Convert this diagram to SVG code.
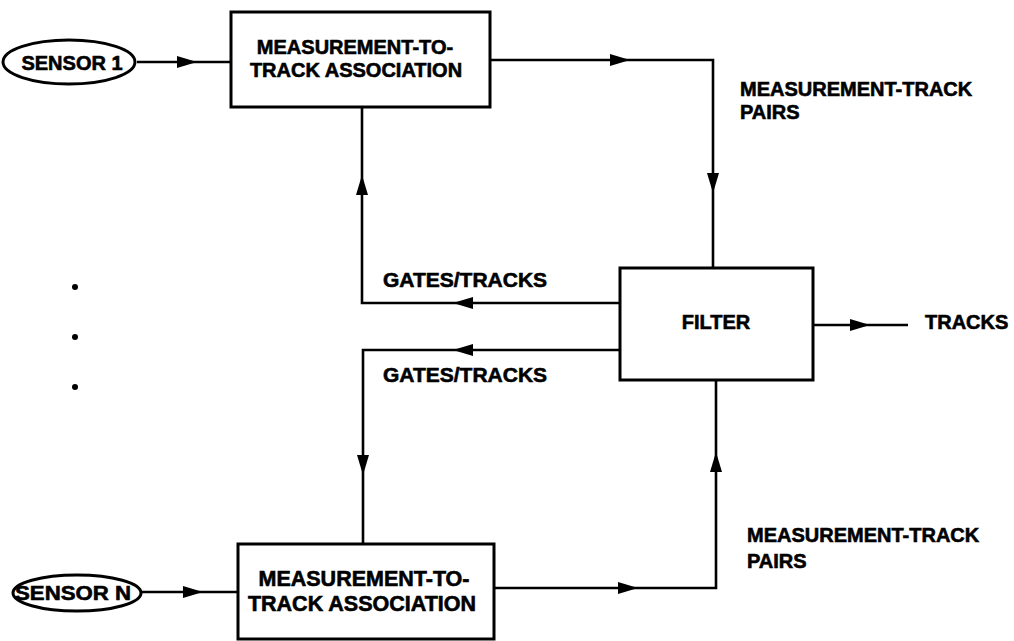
<svg xmlns="http://www.w3.org/2000/svg" xmlns:xlink="http://www.w3.org/1999/xlink" width="1014" height="641" viewBox="0 0 1014 641">
<style>
.box{fill:#fff;stroke:#000;stroke-width:3}
.ell{fill:#fff;stroke:#000;stroke-width:3}
.ln{fill:none;stroke:#000;stroke-width:2.6;stroke-linejoin:miter}
.t{font-family:"Liberation Sans",Arial,Helvetica,sans-serif;font-weight:bold;font-size:20px;fill:#000;stroke:#000;stroke-width:0.6}
.c{text-anchor:middle}
</style>
<defs>
<path id="ah" d="M0,0 L-20,-6 L-20,6 Z" fill="#000"/>
</defs>
<rect width="1014" height="641" fill="#fff"/>
<g id="connectors">
<path class="ln" d="M137,62 L231,62"/>
<use xlink:href="#ah" transform="translate(197,62)"/>
<path class="ln" d="M490,60 L713,60 L713,268"/>
<use xlink:href="#ah" transform="translate(630,60)"/>
<use xlink:href="#ah" transform="translate(713,193) rotate(90)"/>
<path class="ln" d="M620,303 L362,303 L362,107"/>
<use xlink:href="#ah" transform="translate(453,303) rotate(180)"/>
<use xlink:href="#ah" transform="translate(362,175) rotate(-90)"/>
<path class="ln" d="M620,350 L363,350 L363,544"/>
<use xlink:href="#ah" transform="translate(453,350) rotate(180)"/>
<use xlink:href="#ah" transform="translate(363,475) rotate(90)"/>
<path class="ln" d="M494,588 L716,588 L716,380"/>
<use xlink:href="#ah" transform="translate(638,588)"/>
<use xlink:href="#ah" transform="translate(716,452) rotate(-90)"/>
<path class="ln" d="M813,325 L908,325"/>
<use xlink:href="#ah" transform="translate(870,325)"/>
<path class="ln" d="M142,592 L238,592"/>
<use xlink:href="#ah" transform="translate(203,592)"/>
</g>
<g id="sensor1">
<ellipse class="ell" cx="69" cy="62" rx="66" ry="22"/>
<text class="t c" x="72" y="70" font-size="21">SENSOR 1</text>
</g>
<g id="sensorN">
<ellipse class="ell" cx="77" cy="593" rx="64" ry="18"/>
<text class="t" x="15" y="600" style="font-size:21px" textLength="116" lengthAdjust="spacingAndGlyphs">SENSOR N</text>
</g>
<g id="assoc1">
<rect class="box" x="231" y="12" width="259" height="95"/>
<text class="t c" x="355" y="54">MEASUREMENT-TO-</text>
<text class="t c" x="356" y="77">TRACK ASSOCIATION</text>
</g>
<g id="assocN">
<rect class="box" x="238" y="544" width="256" height="95"/>
<text class="t c" x="364" y="586" style="font-size:21.5px">MEASUREMENT-TO-</text>
<text class="t c" x="362" y="611" style="font-size:21.5px">TRACK ASSOCIATION</text>
</g>
<g id="filter">
<rect class="box" x="620" y="268" width="193" height="112"/>
<text class="t c" x="716" y="329">FILTER</text>
</g>
<g id="labels">
<text class="t" x="740" y="96">MEASUREMENT-TRACK</text>
<text class="t" x="740" y="119">PAIRS</text>
<text class="t" x="383" y="287" style="font-size:21px">GATES/TRACKS</text>
<text class="t" x="383" y="382" style="font-size:21px">GATES/TRACKS</text>
<text class="t" x="925" y="329">TRACKS</text>
<text class="t" x="747" y="542">MEASUREMENT-TRACK</text>
<text class="t" x="747" y="568">PAIRS</text>
</g>
<g id="dots">
<circle cx="75" cy="287" r="3"/>
<circle cx="75" cy="337" r="3"/>
<circle cx="75" cy="387" r="3"/>
</g>
</svg>
